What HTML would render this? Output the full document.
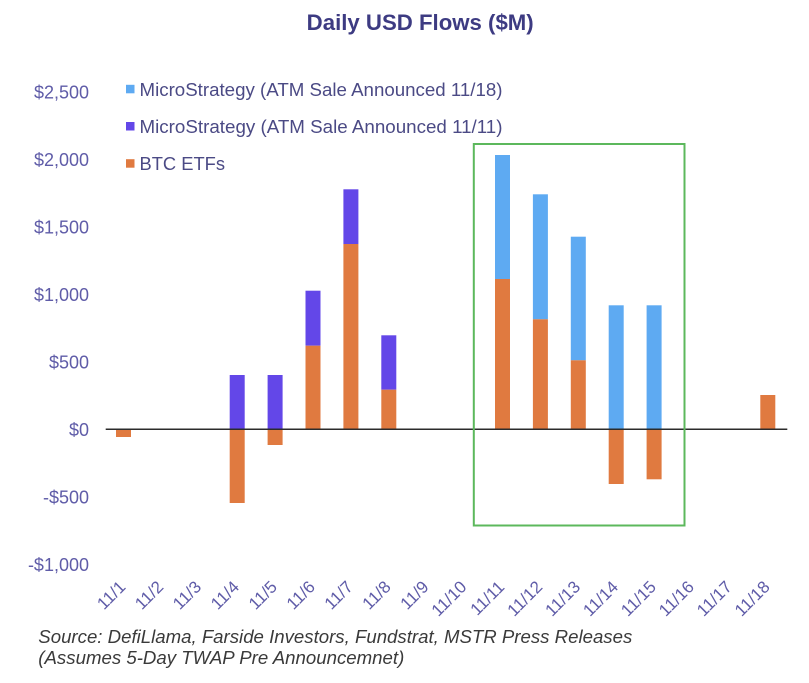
<!DOCTYPE html>
<html>
<head>
<meta charset="utf-8">
<style>
  html,body{margin:0;padding:0;background:#ffffff;}
  body{width:809px;height:683px;overflow:hidden;}
  svg{display:block;font-family:"Liberation Sans",Arial,sans-serif;}
</style>
</head>
<body>
<svg width="809" height="683" viewBox="0 0 809 683" xmlns="http://www.w3.org/2000/svg">
  <rect x="0" y="0" width="809" height="683" fill="#ffffff"/>

  <!-- Title -->
  <text x="306.7" y="30" font-size="22" font-weight="bold" fill="#3d3b82" textLength="227" lengthAdjust="spacingAndGlyphs">Daily USD Flows ($M)</text>

  <!-- Y axis labels -->
  <g font-size="18" fill="#5f5ca8" text-anchor="end">
    <text x="89" y="98.3">$2,500</text>
    <text x="89" y="165.8">$2,000</text>
    <text x="89" y="233.3">$1,500</text>
    <text x="89" y="300.8">$1,000</text>
    <text x="89" y="368.3">$500</text>
    <text x="89" y="435.8">$0</text>
    <text x="89" y="503.3">-$500</text>
    <text x="89" y="570.8">-$1,000</text>
  </g>

  <!-- Legend -->
  <rect x="126" y="84.8" width="8.5" height="8.5" fill="#5eaaf2"/>
  <rect x="126" y="122" width="8.5" height="8.5" fill="#6347e8"/>
  <rect x="126" y="159.2" width="8.5" height="8.5" fill="#e07a40"/>
  <g font-size="18" fill="#4b4a85">
    <text x="139.5" y="96" textLength="363" lengthAdjust="spacingAndGlyphs">MicroStrategy (ATM Sale Announced 11/18)</text>
    <text x="139.5" y="133" textLength="363" lengthAdjust="spacingAndGlyphs">MicroStrategy (ATM Sale Announced 11/11)</text>
    <text x="139.5" y="170" textLength="85.5" lengthAdjust="spacingAndGlyphs">BTC ETFs</text>
  </g>

  <!-- Bars -->
  <g>
    <!-- 11/1 -->
    <rect x="116" y="429" width="15" height="8" fill="#e07a40"/>
    <!-- 11/4 -->
    <rect x="229.7" y="375" width="15" height="54" fill="#6347e8"/>
    <rect x="229.7" y="429" width="15" height="74" fill="#e07a40"/>
    <!-- 11/5 -->
    <rect x="267.6" y="375" width="15" height="54" fill="#6347e8"/>
    <rect x="267.6" y="429" width="15" height="16" fill="#e07a40"/>
    <!-- 11/6 -->
    <rect x="305.5" y="290.7" width="15" height="55" fill="#6347e8"/>
    <rect x="305.5" y="345.7" width="15" height="83.3" fill="#e07a40"/>
    <!-- 11/7 -->
    <rect x="343.4" y="189.3" width="15" height="54.7" fill="#6347e8"/>
    <rect x="343.4" y="244" width="15" height="185" fill="#e07a40"/>
    <!-- 11/8 -->
    <rect x="381.3" y="335.3" width="15" height="54.4" fill="#6347e8"/>
    <rect x="381.3" y="389.7" width="15" height="39.3" fill="#e07a40"/>
    <!-- 11/11 -->
    <rect x="495" y="155" width="15" height="124" fill="#5eaaf2"/>
    <rect x="495" y="279" width="15" height="150" fill="#e07a40"/>
    <!-- 11/12 -->
    <rect x="532.9" y="194.3" width="15" height="125" fill="#5eaaf2"/>
    <rect x="532.9" y="319.3" width="15" height="109.7" fill="#e07a40"/>
    <!-- 11/13 -->
    <rect x="570.8" y="236.7" width="15" height="123.6" fill="#5eaaf2"/>
    <rect x="570.8" y="360.3" width="15" height="68.7" fill="#e07a40"/>
    <!-- 11/14 -->
    <rect x="608.7" y="305.3" width="15" height="123.7" fill="#5eaaf2"/>
    <rect x="608.7" y="429" width="15" height="55" fill="#e07a40"/>
    <!-- 11/15 -->
    <rect x="646.6" y="305.3" width="15" height="123.7" fill="#5eaaf2"/>
    <rect x="646.6" y="429" width="15" height="50.3" fill="#e07a40"/>
    <!-- 11/18 -->
    <rect x="760.3" y="395" width="15" height="34" fill="#e07a40"/>
  </g>

  <!-- Zero axis line -->
  <line x1="105.7" y1="429.2" x2="787.3" y2="429.2" stroke="#2b2b2b" stroke-width="1.5"/>

  <!-- Green highlight box -->
  <rect x="473.8" y="144" width="210.7" height="381.5" fill="none" stroke="#5cb85c" stroke-width="2"/>

  <!-- X axis labels -->
  <g font-size="17" fill="#5f5ca8" text-anchor="end">
    <text transform="translate(126.5,588) rotate(-45)">11/1</text>
    <text transform="translate(164.4,588) rotate(-45)">11/2</text>
    <text transform="translate(202.3,588) rotate(-45)">11/3</text>
    <text transform="translate(240.2,588) rotate(-45)">11/4</text>
    <text transform="translate(278.1,588) rotate(-45)">11/5</text>
    <text transform="translate(316.0,588) rotate(-45)">11/6</text>
    <text transform="translate(353.9,588) rotate(-45)">11/7</text>
    <text transform="translate(391.8,588) rotate(-45)">11/8</text>
    <text transform="translate(429.7,588) rotate(-45)">11/9</text>
    <text transform="translate(467.6,588) rotate(-45)">11/10</text>
    <text transform="translate(505.5,588) rotate(-45)">11/11</text>
    <text transform="translate(543.4,588) rotate(-45)">11/12</text>
    <text transform="translate(581.3,588) rotate(-45)">11/13</text>
    <text transform="translate(619.2,588) rotate(-45)">11/14</text>
    <text transform="translate(657.1,588) rotate(-45)">11/15</text>
    <text transform="translate(695.0,588) rotate(-45)">11/16</text>
    <text transform="translate(732.9,588) rotate(-45)">11/17</text>
    <text transform="translate(770.8,588) rotate(-45)">11/18</text>
  </g>

  <!-- Source -->
  <g font-size="18" font-style="italic" fill="#3a3a3a">
    <text x="38.3" y="643" textLength="594" lengthAdjust="spacingAndGlyphs">Source: DefiLlama, Farside Investors, Fundstrat, MSTR Press Releases</text>
    <text x="38.3" y="664" textLength="366" lengthAdjust="spacingAndGlyphs">(Assumes 5-Day TWAP Pre Announcemnet)</text>
  </g>
</svg>
</body>
</html>
